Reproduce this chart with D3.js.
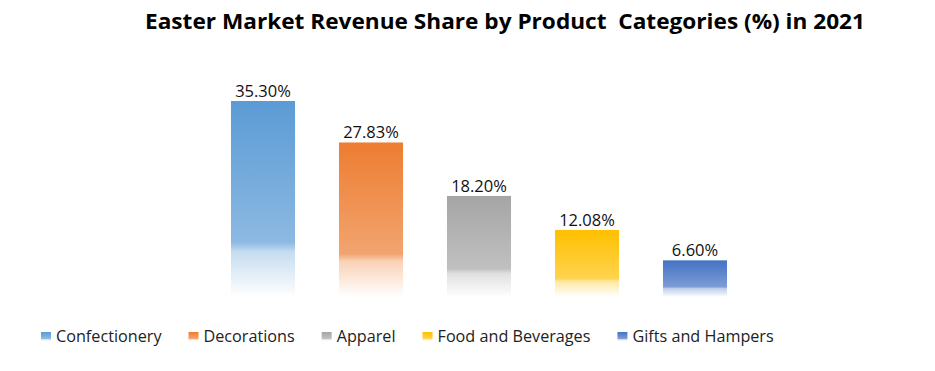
<!DOCTYPE html>
<html lang="en">
<head>
    <meta charset="UTF-8">
    <title>Easter Market Revenue Share</title>
    <script src="https://d3js.org/d3.v7.min.js"></script>
    <style>
        body { margin: 0; background: #fff; }
        .title { font-family: "Open Sans", sans-serif; font-size: 21px; font-weight: bold; fill: #000; white-space: pre; }
        .data-label { font-family: "Open Sans", sans-serif; font-size: 16.5px; text-anchor: middle; fill: #111; }
        .legend text { font-family: "Open Sans", sans-serif; font-size: 16.2px; fill: #222; }
    </style>
</head>
<body>
    <div id="chart"></div>
    <script>
        const categories = ["Confectionery", "Decorations", "Apparel", "Food and Beverages", "Gifts and Hampers"];
        const shares = [35.30, 27.83, 18.20, 12.08, 6.60];
        const colors = ["#5B9BD5", "#ED7D31", "#A5A5A5", "#FFC000", "#4472C4"];

        const W = 935, H = 371;
        const svg = d3.select("#chart").append("svg")
            .attr("width", W).attr("height", H);

        // gradients: solid at top, fading to white at the base
        const defs = svg.append("defs");
        colors.forEach((c, i) => {
            const g = defs.append("linearGradient")
                .attr("id", "grad" + i)
                .attr("x1", 0).attr("y1", 0).attr("x2", 0).attr("y2", 1);
            const mix = d3.interpolateRgb(c, "#ffffff");
            [[0, mix(0)], [0.72, mix(0.3)], [0.77, mix(0.65)], [1, "#ffffff"]].forEach(([o, col]) => {
                g.append("stop").attr("offset", o).attr("stop-color", col);
            });
        });

        svg.append("text")
            .attr("class", "title")
            .attr("x", 145).attr("y", 29)
            .attr("textLength", 720)
            .attr("lengthAdjust", "spacingAndGlyphs")
            .text("Easter Market Revenue Share by Product  Categories (%) in 2021");

        const x = d3.scaleBand()
            .domain(categories)
            .range([209, 749])
            .paddingInner(0.407)
            .paddingOuter(0.2035);

        const y = d3.scaleLinear()
            .domain([0, 35.30])
            .range([297, 101]);

        svg.selectAll(".bar")
            .data(categories)
            .enter()
            .append("rect")
            .attr("class", "bar")
            .attr("x", d => x(d))
            .attr("width", x.bandwidth())
            .attr("y", (d, i) => y(shares[i]))
            .attr("height", (d, i) => y(0) - y(shares[i]))
            .attr("fill", (d, i) => `url(#grad${i})`);

        svg.selectAll(".data-label")
            .data(categories)
            .enter()
            .append("text")
            .attr("class", "data-label")
            .attr("x", d => x(d) + x.bandwidth() / 2)
            .attr("y", (d, i) => y(shares[i]) - 4)
            .text((d, i) => shares[i].toFixed(2) + "%");

        // legend
        const legend = svg.append("g").attr("class", "legend");
        let lx = 41;
        categories.forEach((c, i) => {
            legend.append("rect")
                .attr("x", lx).attr("y", 332)
                .attr("width", 10).attr("height", 9)
                .attr("fill", `url(#grad${i})`);
            const t = legend.append("text")
                .attr("x", lx + 15).attr("y", 342)
                .text(c);
            lx += 15 + t.node().getComputedTextLength() + 27;
        });
    </script>
</body>
</html>
